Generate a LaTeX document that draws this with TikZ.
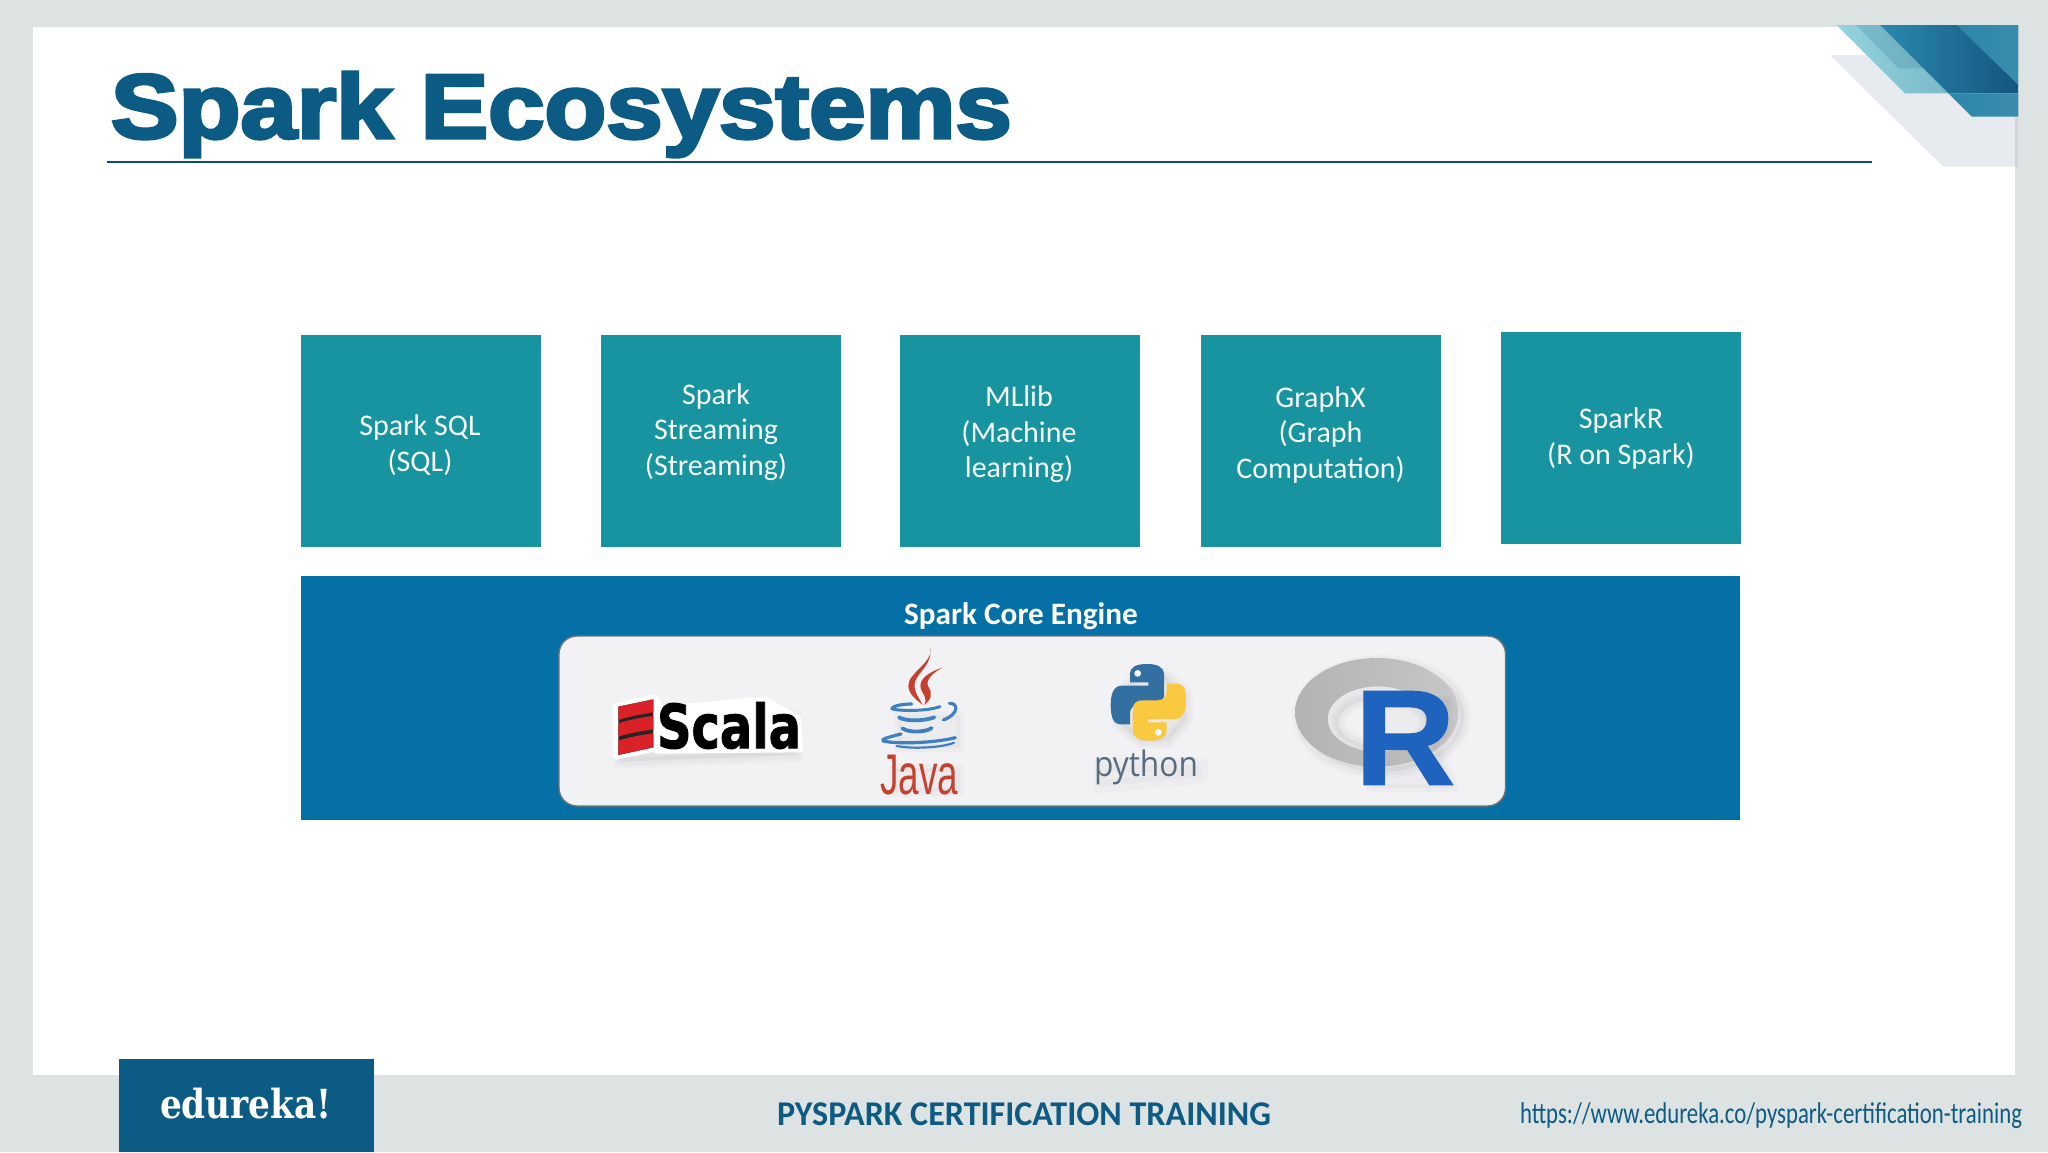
\documentclass[tikz,border=0pt]{standalone}
\usepackage{fontspec}
\usepackage{graphicx}
\setmainfont{Carlito}
\newfontfamily\djsans{DejaVu Sans}
\newfontfamily\djserif{DejaVu Serif}
\newfontfamily\libsans{Liberation Sans}
\newfontfamily\opensans{Open Sans}
\newfontfamily\titleface{Liberation Sans Bold}[FakeBold=3.6]
\newfontfamily\scalaface{DejaVu Sans Bold}[FakeBold=1.6]
\newfontfamily\rface{Liberation Sans Bold}[FakeBold=1.2]
\definecolor{framecol}{HTML}{DDE3E2}
\definecolor{titlecol}{HTML}{0B5B84}
\definecolor{tilecol}{HTML}{17949F}
\definecolor{corecol}{HTML}{0570A6}
\definecolor{panelcol}{HTML}{F2F2F4}
\definecolor{footcol}{HTML}{0D5A82}
\definecolor{palecol}{HTML}{E7EAEF}
\definecolor{redscala}{HTML}{DA2128}
\definecolor{redjava}{HTML}{C6402F}
\definecolor{bluejava}{HTML}{3F80C0}
\definecolor{pyblue}{HTML}{336FA1}
\definecolor{pyyellow}{HTML}{FBC93F}
\definecolor{pytext}{HTML}{586C80}
\definecolor{rblue}{HTML}{1E63BD}
\definecolor{cnrlightL}{HTML}{93D4DE}
\definecolor{cnrlightR}{HTML}{6EA9BC}
\definecolor{cnrdarkL}{HTML}{2B89B0}
\definecolor{cnrdarkR}{HTML}{14557E}
\definecolor{cnrmidL}{HTML}{2C86A8}
\definecolor{cnrmidR}{HTML}{3A8CAC}
\tikzset{
  tile/.style={fill=tilecol,draw=none,minimum width=120pt,minimum height=106pt,inner sep=0pt},
  tiletext/.style={text=white!96!tilecol,align=center,inner sep=0pt,font=\fontsize{15}{17.75}\selectfont},
  fitted/.style={inner sep=0pt,outer sep=0pt,anchor=north west},
  zoomA/.style={shift={(600,640)},x=0.16667pt,y=-0.16667pt},
  zoomB/.style={shift={(1080,645)},x=0.16667pt,y=-0.16667pt},
  zoomC/.style={shift={(1780,0)},x=0.16667pt,y=-0.16667pt},
  softwide/.style={draw=black,fill=black,opacity=.018,line width=7pt,line join=round},
  softmid/.style={draw=black,fill=black,opacity=.025,line width=4pt,line join=round},
  softthin/.style={draw=black,fill=black,opacity=.03,line width=1.5pt,line join=round},
  cupline/.style={draw=bluejava,line cap=round,fill=none},
}
\begin{document}
\begin{tikzpicture}[x=0.5pt,y=-0.5pt]
\useasboundingbox (0,0) rectangle (2048,1152);
\fill[framecol] (0,0) rectangle (2048,1152);
\fill[white] (33,27) rectangle (2015,1075);

% corner decoration
\begin{scope}[zoomC]
  \fill[palecol] (150,165) -- (490,500) -- (705,500) -- (705,165) -- cycle;
  \fill[black!22,opacity=.5] (705,355) rectangle (715,500);
  \shade[left color=cnrlightL,right color=cnrlightR] (170,75) -- (375,280) -- (715,280) -- (715,75) -- cycle;
  \fill[cnrdarkR,opacity=.16] (228,75) -- (355,205) -- (715,205) -- (715,75) -- cycle;
  \shade[left color=cnrdarkL,right color=cnrdarkR] (300,75) -- (505,280) -- (715,280) -- (715,75) -- cycle;
  \shade[left color=cnrmidL,right color=cnrmidR] (505,280) -- (575,350) -- (715,350) -- (715,280) -- cycle;
  \shade[left color=cnrmidL,right color=cnrmidR] (530,75) -- (715,255) -- (715,75) -- cycle;
\end{scope}

% title
\node[fitted,text=titlecol] (title) at (111,72) {\resizebox*{450.5pt}{42.5pt}{\titleface Spark Ecosystems}};
\coordinate (ruleL) at (107,162);
\coordinate (ruleR) at (1872,162);
\draw[titlecol!85!black,line width=1pt] (ruleL) -- (ruleR);

% module tiles
\node[tile] (b1) at (421,441) {};
\node[tile] (b2) at (720.5,441) {};
\node[tile] (b3) at (1020,441) {};
\node[tile] (b4) at (1320.5,441) {};
\node[tile] (b5) at (1620.5,438) {};
\node[tiletext] (t1) at (420,445) {Spark SQL\\(SQL)};
\node[tiletext] (t2) at (716,432) {Spark\\Streaming\\(Streaming)};
\node[tiletext] (t3) at (1019,434.5) {MLlib\\(Machine\\learning)};
\node[tiletext] (t4) at (1320.5,434.5) {GraphX\\(Graph\\Computation)};
\node[tiletext] (t5) at (1621,438.5) {SparkR\\(R on Spark)};

% core engine
\fill[corecol] (301,576) rectangle (1740,820);
\node[text=white,inner sep=0pt,font=\fontsize{15.6}{18}\selectfont\bfseries] (core) at (1021,616) {Spark Core Engine};
\draw[fill=panelcol,draw=black!55,line width=.7pt,rounded corners=9pt] (559,636) rectangle (1505.5,806);

% Scala logo
\begin{scope}[zoomA]
  \path[softwide] (60,225) -- (160,205) -- (585,230) -- (590,345) -- (60,365) -- cycle;
  \path[softmid] (60,225) -- (160,205) -- (585,230) -- (590,345) -- (60,365) -- cycle;
  \draw[white,fill=white,line width=3pt,line join=round] (48,198) -- (165,172) -- (180,205) -- (320,195) -- (440,182) -- (500,182) -- (595,235) -- (600,328) -- (170,332) -- (165,325) -- (48,350) -- cycle;
  \fill[black!85] (55,200) -- (160,178) -- (160,322) -- (55,345) -- cycle;
  \fill[redscala] (55,200) -- (160,178) -- (160,217) .. controls (125,222) and (85,230) .. (55,240) -- cycle;
  \fill[redscala] (55,250) .. controls (85,240) and (125,232) .. (160,228) -- (160,268) .. controls (125,273) and (85,280) .. (55,290) -- cycle;
  \fill[redscala] (55,302) .. controls (85,292) and (125,284) .. (160,280) -- (160,322) -- (55,345) -- cycle;
\end{scope}
\node[fitted,text=black] (scala) at (657,702) {\resizebox*{72pt}{23.5pt}{\scalaface Scala}};

% Java logo
\begin{scope}[zoomA]
  \path[softmid] (880,385) -- (1080,385) -- (1080,455) -- (880,455) -- cycle;
  \path[softmid] (895,225) -- (1080,225) -- (1080,325) -- (895,325) -- cycle;
  \fill[redjava] (990,22) .. controls (1005,65) and (920,100) .. (925,140) .. controls (928,165) and (950,180) .. (968,195) .. controls (955,170) and (938,150) .. (945,125) .. controls (955,95) and (1000,70) .. (990,22) -- cycle;
  \fill[redjava] (1027,83) .. controls (990,95) and (955,115) .. (962,145) .. controls (967,162) and (985,175) .. (972,195) .. controls (995,178) and (998,160) .. (985,140) .. controls (975,122) and (995,100) .. (1027,83) -- cycle;
  \draw[cupline,line width=1.6pt] (875,207) .. controls (880,195) and (915,192) .. (935,192);
  \draw[cupline,line width=1.5pt] (880,208) .. controls (920,214) and (985,212) .. (1020,200);
  \draw[cupline,line width=1.6pt] (1048,190) .. controls (1075,188) and (1078,222) .. (1030,240);
  \draw[cupline,line width=1.9pt] (897,232) .. controls (915,244) and (970,244) .. (1003,232);
  \draw[cupline,line width=1.9pt] (907,265) .. controls (925,278) and (975,278) .. (995,264);
  \draw[cupline,line width=1.6pt] (903,282) .. controls (870,290) and (840,298) .. (850,303) .. controls (885,312) and (1000,310) .. (1066,293);
  \draw[cupline,line width=1.1pt] (890,318) .. controls (940,328) and (1030,322) .. (1062,308);
\end{scope}
\node[fitted,text=redjava] (java) at (880,755) {\resizebox*{39pt}{20pt}{\libsans Java}};

% Python logo
\begin{scope}[zoomB]
  \path[softwide] (175,90) -- (255,90) -- (320,150) -- (320,225) -- (265,290) -- (180,290) -- (115,235) -- (115,150) -- cycle;
  \path[softmid] (175,90) -- (255,90) -- (320,150) -- (320,225) -- (265,290) -- (180,290) -- (115,235) -- (115,150) -- cycle;
  \path[softwide] (60,360) -- (365,360) -- (365,395) -- (60,425) -- cycle;
  \fill[pyblue] (150,88) .. controls (150,65) and (170,57) .. (200,57) .. controls (232,57) and (252,65) .. (252,90) -- (252,152) .. controls (252,168) and (240,178) .. (225,178) -- (178,178) .. controls (160,178) and (150,190) .. (150,205) -- (150,238) -- (120,238) .. controls (100,238) and (92,215) .. (92,180) .. controls (92,145) and (102,122) .. (125,122) -- (205,122) -- (205,112) -- (150,112) -- cycle;
  \fill[pyyellow] (260,256) .. controls (260,279) and (240,287) .. (210,287) .. controls (178,287) and (158,279) .. (158,254) -- (158,192) .. controls (158,176) and (170,166) .. (185,166) -- (232,166) .. controls (250,166) and (260,154) .. (260,139) -- (260,116) -- (290,116) .. controls (310,116) and (318,129) .. (318,164) .. controls (318,199) and (308,222) .. (285,222) -- (205,222) -- (205,232) -- (260,232) -- cycle;
  \fill[white] (173,85) circle (10);
  \fill[white] (235,262) circle (10);
\end{scope}
\node[fitted,text=pytext] (python) at (1094,750) {\resizebox*{52pt}{17.5pt}{\opensans python}};

% R logo
\begin{scope}[zoomB]
  \path[softwide,even odd rule] (905,215) ellipse [x radius=248,y radius=165] (905,232) ellipse [x radius=130,y radius=72];
  \path[softmid,even odd rule] (905,215) ellipse [x radius=248,y radius=165] (905,232) ellipse [x radius=130,y radius=72];
  \shade[left color=black!30,right color=black!22,even odd rule] (890,202) ellipse [x radius=245,y radius=163] (893,222) ellipse [x radius=150,y radius=98];
  \path[softmid] (870,165) -- (1105,165) -- (1105,270) -- (1070,305) -- (1125,430) -- (870,430) -- cycle;
\end{scope}
\node[fitted,text=rblue] (rlogo) at (1355,691.5) {\resizebox*{50pt}{46.5pt}{\rface R}};

% footer
\fill[titlecol] (119,1059) rectangle (374,1152);
\node[fitted,text=white] (edu) at (160,1088) {\resizebox*{86pt}{15.5pt}{\djserif\bfseries edureka!}};
\node[fitted,text=footcol] (foot) at (777,1103) {\resizebox*{247pt}{11.5pt}{\bfseries PYSPARK CERTIFICATION TRAINING}};
\node[fitted,text=footcol] (url) at (1520,1103) {\resizebox*{251pt}{13pt}{https://www.edureka.co/pyspark-certification-training}};
\end{tikzpicture}
\end{document}
